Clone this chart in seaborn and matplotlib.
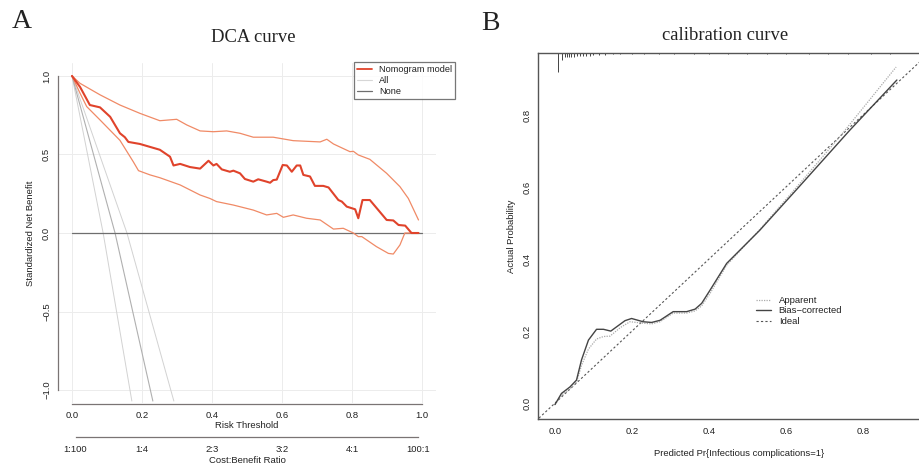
import matplotlib
matplotlib.use("Agg")
import matplotlib.pyplot as plt
import seaborn as sns
import numpy as np
import pandas as pd

sns.set_theme(style="white")
plt.rcParams['font.family'] = ['Liberation Sans', 'DejaVu Sans']

# ---------------- Panel A data (DCA) ----------------
nomo_t = [0, 0.023, 0.051, 0.08, 0.109, 0.137, 0.151, 0.161, 0.194, 0.251, 0.28, 0.29, 0.309,
          0.337, 0.366, 0.39, 0.404, 0.413, 0.428, 0.451, 0.461, 0.48, 0.494, 0.518, 0.532,
          0.556, 0.566, 0.575, 0.585, 0.602, 0.614, 0.628, 0.642, 0.652, 0.661, 0.68, 0.694,
          0.718, 0.733, 0.761, 0.771, 0.785, 0.809, 0.818, 0.83, 0.851, 0.899, 0.918, 0.933,
          0.952, 0.97, 0.99]
nomo_v = [1.0, 0.93, 0.815, 0.80, 0.74, 0.635, 0.61, 0.58, 0.567, 0.53, 0.486, 0.43, 0.44,
          0.42, 0.41, 0.46, 0.43, 0.44, 0.405, 0.39, 0.397, 0.38, 0.344, 0.327, 0.342,
          0.327, 0.32, 0.337, 0.34, 0.433, 0.43, 0.39, 0.43, 0.43, 0.37, 0.36, 0.30,
          0.30, 0.29, 0.21, 0.20, 0.168, 0.151, 0.094, 0.21, 0.21, 0.083, 0.08, 0.051,
          0.047, 0.0, 0.0]

upper_t = [0, 0.023, 0.08, 0.137, 0.194, 0.251, 0.299, 0.328, 0.366, 0.404, 0.442, 0.48,
           0.518, 0.575, 0.632, 0.709, 0.728, 0.747, 0.794, 0.804, 0.818, 0.851, 0.899,
           0.937, 0.961, 0.99]
upper_v = [1.0, 0.953, 0.88, 0.815, 0.762, 0.715, 0.724, 0.688, 0.65, 0.645, 0.65, 0.635,
           0.61, 0.61, 0.588, 0.58, 0.597, 0.567, 0.518, 0.52, 0.497, 0.469, 0.38,
           0.295, 0.22, 0.083]

lower_t = [0, 0.023, 0.042, 0.08, 0.137, 0.175, 0.19, 0.223, 0.251, 0.309, 0.366, 0.394,
           0.413, 0.461, 0.518, 0.556, 0.585, 0.604, 0.632, 0.67, 0.709, 0.747, 0.775,
           0.804, 0.818, 0.828, 0.87, 0.904, 0.918, 0.937, 0.951, 0.97, 0.99]
lower_v = [1.0, 0.89, 0.805, 0.72, 0.59, 0.454, 0.397, 0.37, 0.352, 0.306, 0.242, 0.22,
           0.20, 0.178, 0.146, 0.115, 0.125, 0.10, 0.115, 0.094, 0.083, 0.025, 0.03,
           0.0, -0.023, -0.023, -0.087, -0.13, -0.134, -0.076, 0.0, 0.0, 0.0]

all_mid_t = [0, 0.123, 0.231]
all_mid_v = [1.0, 0.0, -1.07]
all_lo_t = [0, 0.089, 0.171]
all_lo_v = [1.0, 0.0, -1.07]
all_hi_t = [0, 0.157, 0.291]
all_hi_v = [1.0, 0.0, -1.07]

none_t = [0, 1.0]
none_v = [0, 0]

risk_ticks = [0.0, 0.2, 0.4, 0.6, 0.8, 1.0]
cb_pos = [0.01, 0.2, 0.4, 0.6, 0.8, 0.99]
cb_labels = ["1:100", "1:4", "2:3", "3:2", "4:1", "100:1"]
nb_ticks = [-1.0, -0.5, 0.0, 0.5, 1.0]

# ---------------- Panel B data (calibration) ----------------
bias_p = [0.0, 0.017, 0.039, 0.056, 0.069, 0.087, 0.108, 0.126, 0.145, 0.182, 0.199, 0.229,
          0.251, 0.273, 0.307, 0.342, 0.364, 0.381, 0.403, 0.446, 0.532, 0.636, 0.766, 0.888]
bias_a = [-0.004, 0.027, 0.045, 0.064, 0.12, 0.175, 0.205, 0.205, 0.2, 0.229, 0.235, 0.226,
          0.224, 0.23, 0.254, 0.254, 0.261, 0.277, 0.314, 0.388, 0.48, 0.603, 0.758, 0.897]

app_p = [0.0, 0.017, 0.039, 0.056, 0.069, 0.087, 0.108, 0.126, 0.143, 0.17, 0.195, 0.229,
         0.251, 0.273, 0.307, 0.342, 0.364, 0.381, 0.403, 0.446, 0.532, 0.636, 0.74, 0.886]
app_a = [-0.004, 0.022, 0.04, 0.058, 0.105, 0.15, 0.178, 0.185, 0.186, 0.21, 0.226, 0.222,
         0.22, 0.226, 0.25, 0.25, 0.256, 0.27, 0.305, 0.383, 0.482, 0.61, 0.74, 0.933]

ideal_p = [-0.05, 1.0]
ideal_a = [-0.05, 1.0]

rug_p = [0.007, 0.018, 0.025, 0.031, 0.037, 0.043, 0.05, 0.057, 0.064, 0.072, 0.08, 0.09,
         0.1, 0.115, 0.13, 0.15, 0.17, 0.2, 0.23, 0.27, 0.31, 0.36, 0.4, 0.45, 0.5,
         0.55, 0.6, 0.66, 0.71, 0.76, 0.82, 0.87]
rug_h = [0.053, 0.02, 0.012, 0.011, 0.011, 0.01, 0.01, 0.009, 0.009, 0.008, 0.008, 0.007,
         0.006, 0.005, 0.005, 0.004, 0.004, 0.004, 0.003, 0.003, 0.003, 0.003, 0.003, 0.003,
         0.003, 0.003, 0.003, 0.003, 0.003, 0.003, 0.003, 0.003]

calib_ticks = [0.0, 0.2, 0.4, 0.6, 0.8]

# ---------------- Figure ----------------
fig = plt.figure(figsize=(9.2, 4.67), dpi=100)
TXT = "#222222"
AX = "#7a7474"

# ===== Panel A =====
axA = fig.add_axes([58/920, 1 - 402.6/467, (436-58)/920, (402.6-63.4)/467])
axA.set_xlim(-0.04, 1.04)
axA.set_ylim(-1.08, 1.08)
for t in risk_ticks:
    axA.axvline(t, color="#ececec", lw=0.7, zorder=0)
for v in nb_ticks:
    axA.axhline(v, color="#ececec", lw=0.7, zorder=0)

red = "#e0432b"
salmon = "#f08a66"
sns.lineplot(x=all_lo_t, y=all_lo_v, ax=axA, color="#d2d2d2", lw=0.7, sort=False, estimator=None)
sns.lineplot(x=all_hi_t, y=all_hi_v, ax=axA, color="#d2d2d2", lw=0.7, sort=False, estimator=None)
sns.lineplot(x=all_mid_t, y=all_mid_v, ax=axA, color="#b0b0b0", lw=0.8, sort=False, estimator=None)
sns.lineplot(x=none_t, y=none_v, ax=axA, color="#6e6e6e", lw=0.9, sort=False, estimator=None)
sns.lineplot(x=upper_t, y=upper_v, ax=axA, color=salmon, lw=0.9, sort=False, estimator=None)
sns.lineplot(x=lower_t, y=lower_v, ax=axA, color=salmon, lw=0.9, sort=False, estimator=None)
sns.lineplot(x=nomo_t, y=nomo_v, ax=axA, color=red, lw=1.5, sort=False, estimator=None)

for s in ["top", "right"]:
    axA.spines[s].set_visible(False)
axA.spines["left"].set_bounds(-1.0, 1.0)
axA.spines["bottom"].set_bounds(0.0, 1.0)
axA.spines["bottom"].set_position(("outward", 1))
for s in ["left", "bottom"]:
    axA.spines[s].set_color(AX)
    axA.spines[s].set_linewidth(0.9)
axA.set_xticks(risk_ticks)
axA.set_xticklabels([f"{t:.1f}" for t in risk_ticks])
axA.set_yticks(nb_ticks)
axA.set_yticklabels([f"{v:.1f}".replace("-", "\u2212") for v in nb_ticks], rotation=90, va="center")
axA.tick_params(axis="x", direction="out", length=4, width=0.9, color=AX,
                labelsize=6.8, labelcolor=TXT, pad=1)
axA.tick_params(axis="y", direction="out", length=4, width=0.9, color=AX,
                labelsize=6.8, labelcolor=TXT, pad=1)
axA.set_xlabel("Risk Threshold", fontsize=6.8, color=TXT, labelpad=1)
axA.set_ylabel("Standardized Net Benefit", fontsize=6.8, color=TXT, labelpad=5)
axA.grid(False)

from matplotlib.lines import Line2D
hA = [Line2D([], [], color=red, lw=1.3), Line2D([], [], color="#d6d6d6", lw=0.8),
      Line2D([], [], color="#6e6e6e", lw=0.9)]
legA = axA.legend(hA, ["Nomogram model", "All", "None"], loc="upper right",
                  bbox_to_anchor=(455/920, 1 - 62/467), bbox_transform=fig.transFigure,
                  fontsize=6.6, frameon=True, fancybox=False, borderpad=0.3,
                  handlelength=1.6, handletextpad=0.8, labelspacing=0.25, borderaxespad=0)
legA.get_frame().set_edgecolor("#555555")
legA.get_frame().set_linewidth(0.9)
for t in legA.get_texts():
    t.set_color(TXT)

# secondary cost:benefit axis
axC = fig.add_axes([58/920, 1 - 437/467, (436-58)/920, 0.001])
axC.set_xlim(-0.04, 1.04)
axC.set_yticks([])
axC.patch.set_visible(False)
for s in ["top", "right", "left"]:
    axC.spines[s].set_visible(False)
axC.spines["bottom"].set_bounds(cb_pos[0], cb_pos[-1])
axC.spines["bottom"].set_color(AX)
axC.spines["bottom"].set_linewidth(0.9)
axC.set_xticks(cb_pos)
axC.set_xticklabels(cb_labels)
axC.tick_params(axis="x", direction="out", length=4, width=0.9, color=AX,
                labelsize=6.8, labelcolor=TXT, pad=2)
axC.set_xlabel("Cost:Benefit Ratio", fontsize=6.8, color=TXT, labelpad=1)

fig.text(253/920, 1 - 37/467, "DCA curve", family="Liberation Serif", fontsize=13.4,
         ha="center", va="center", color=TXT)
fig.text(22/920, 1 - 22/467, "A", family="Liberation Serif", fontsize=20,
         ha="center", va="center", color=TXT)

# ===== Panel B =====
axB = fig.add_axes([538/920, 1 - 419/467, (940-538)/920, (419-53)/467])
axB.set_xlim(-0.044, 1.0)
axB.set_ylim(-0.044, 0.972)
sns.lineplot(x=ideal_p, y=ideal_a, ax=axB, color="#555555", lw=0.8, linestyle=(0, (2, 2)),
             sort=False, estimator=None)
sns.lineplot(x=app_p, y=app_a, ax=axB, color="#aaaaaa", lw=0.9, linestyle=(0, (1, 1)),
             sort=False, estimator=None)
sns.lineplot(x=bias_p, y=bias_a, ax=axB, color="#444444", lw=1.0, sort=False, estimator=None)
axB.vlines(rug_p, [0.972 - h for h in rug_h], 0.972, color="#444444", lw=0.7)

for s in ["left", "bottom", "top", "right"]:
    axB.spines[s].set_color("#555555")
    axB.spines[s].set_linewidth(1.0)
axB.set_xticks(calib_ticks)
axB.set_xticklabels([f"{t:.1f}" for t in calib_ticks])
axB.set_yticks(calib_ticks)
axB.set_yticklabels([f"{t:.1f}" for t in calib_ticks], rotation=90, va="center")
axB.tick_params(axis="x", direction="out", length=3, width=0.8, color="#555555",
                labelsize=6.8, labelcolor=TXT, pad=3)
axB.tick_params(axis="y", direction="out", length=3, width=0.8, color="#555555",
                labelsize=6.8, labelcolor=TXT, pad=1.5)
axB.set_xlabel("Predicted Pr{Infectious complications=1}", fontsize=6.8, color=TXT, labelpad=9)
axB.set_ylabel("Actual Probability", fontsize=6.8, color=TXT, labelpad=5)
axB.grid(False)

hB = [Line2D([], [], color="#aaaaaa", lw=0.9, linestyle=(0, (1, 1))),
      Line2D([], [], color="#444444", lw=1.0),
      Line2D([], [], color="#555555", lw=0.8, linestyle=(0, (2, 2)))]
legB = axB.legend(hB, ["Apparent", "Bias\u2212corrected", "Ideal"], loc="upper left",
                  bbox_to_anchor=(756/920, 1 - 296/467), bbox_transform=fig.transFigure,
                  fontsize=6.8, frameon=False, borderpad=0, handlelength=1.6,
                  handletextpad=0.8, labelspacing=0.15, borderaxespad=0)
for t in legB.get_texts():
    t.set_color(TXT)

fig.text(725/920, 1 - 36/467, "calibration curve", family="Liberation Serif", fontsize=13.4,
         ha="center", va="center", color=TXT)
fig.text(490/920, 1 - 23/467, "B", family="Liberation Serif", fontsize=20,
         ha="center", va="center", color=TXT)

fig.savefig("out.png", dpi=100)
